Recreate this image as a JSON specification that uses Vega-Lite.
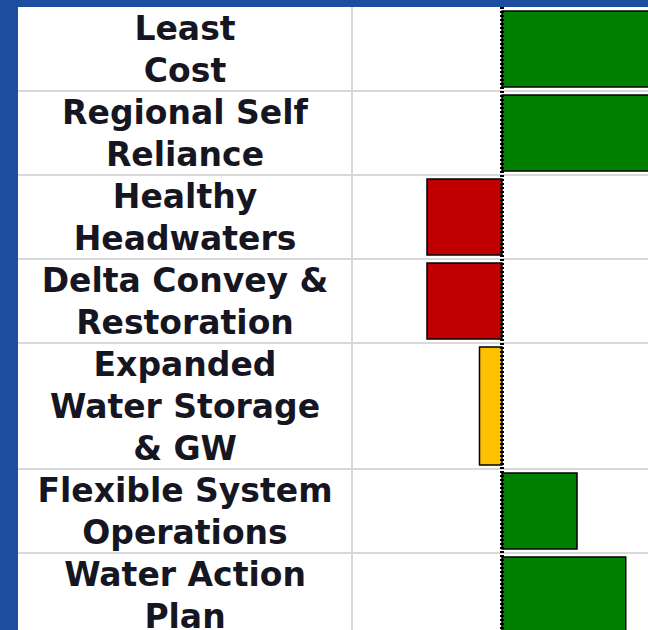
{
  "$schema": "https://vega.github.io/schema/vega-lite/v6.json",
  "background": "#1c4ea0",
  "padding": {"left": 17, "top": 5, "right": 0, "bottom": 0},
  "bounds": "flush",
  "data": {"values": [
    {"measure": "Least\nCost", "score": 2.5, "rating": "Favorable"},
    {"measure": "Regional Self\nReliance", "score": 2.5, "rating": "Favorable"},
    {"measure": "Healthy\nHeadwaters", "score": -1, "rating": "Unfavorable"},
    {"measure": "Delta Convey &\nRestoration", "score": -1, "rating": "Unfavorable"},
    {"measure": "Expanded\nWater Storage\n& GW", "score": -0.3, "rating": "Neutral"},
    {"measure": "Flexible System\nOperations", "score": 1, "rating": "Favorable"},
    {"measure": "Water  Action\nPlan", "score": 1.65, "rating": "Favorable"}
  ]},
  "transform": [
    {"calculate": "length(split(datum.measure, '\\n'))", "as": "lines"},
    {"window": [{"op": "sum", "field": "lines", "as": "lineEnd"}], "frame": [null, 0]},
    {"calculate": "datum.lineEnd - datum.lines", "as": "lineStart"},
    {"calculate": "datum.lineStart + 0.5", "as": "firstLine"}
  ],
  "spacing": 0,
  "hconcat": [
    {
      "width": 334,
      "height": 625,
      "layer": [
        {
          "mark": {"type": "rule", "color": "#d9d9d9", "strokeWidth": 2},
          "encoding": {
            "y": {"field": "lineEnd", "type": "quantitative", "scale": {"domain": [0, 14.88], "reverse": true, "nice": false, "zero": false}, "axis": null}
          }
        },
        {
          "mark": {"type": "text", "font": "DejaVu Sans", "fontWeight": "bold", "fontSize": 33, "lineHeight": 42, "lineBreak": "\n", "baseline": "middle", "align": "center", "dy": 2, "color": "#161622"},
          "encoding": {
            "y": {"field": "firstLine", "type": "quantitative"},
            "text": {"field": "measure", "type": "nominal"}
          }
        }
      ]
    },
    {
      "width": 297,
      "height": 625,
      "layer": [
        {
          "mark": {"type": "rule", "color": "#d9d9d9", "strokeWidth": 2},
          "encoding": {
            "y": {"field": "lineEnd", "type": "quantitative", "scale": {"domain": [0, 14.88], "reverse": true, "nice": false, "zero": false}, "axis": null}
          }
        },
        {
          "mark": {"type": "rule", "color": "#d9d9d9", "strokeWidth": 2},
          "encoding": {
            "x": {"datum": -2, "type": "quantitative", "scale": {"domain": [-2, 1.96], "nice": false, "zero": false}, "axis": null}
          }
        },
        {
          "mark": {"type": "rect", "stroke": "#000000", "strokeWidth": 1.5, "yOffset": 4, "y2Offset": -4, "clip": true},
          "encoding": {
            "x": {"field": "score", "type": "quantitative"},
            "x2": {"datum": 0},
            "y": {"field": "lineStart", "type": "quantitative"},
            "y2": {"field": "lineEnd"},
            "color": {"field": "rating", "type": "nominal", "scale": {"domain": ["Favorable", "Unfavorable", "Neutral"], "range": ["#008000", "#c00000", "#ffc000"]}, "legend": null}
          }
        },
        {
          "mark": {"type": "rule", "color": "#000000", "strokeWidth": 3, "strokeDash": [2, 2]},
          "encoding": {
            "x": {"datum": 0, "type": "quantitative"}
          }
        }
      ]
    }
  ],
  "config": {
    "view": {"fill": "white", "stroke": null},
    "concat": {"spacing": 0}
  }
}
